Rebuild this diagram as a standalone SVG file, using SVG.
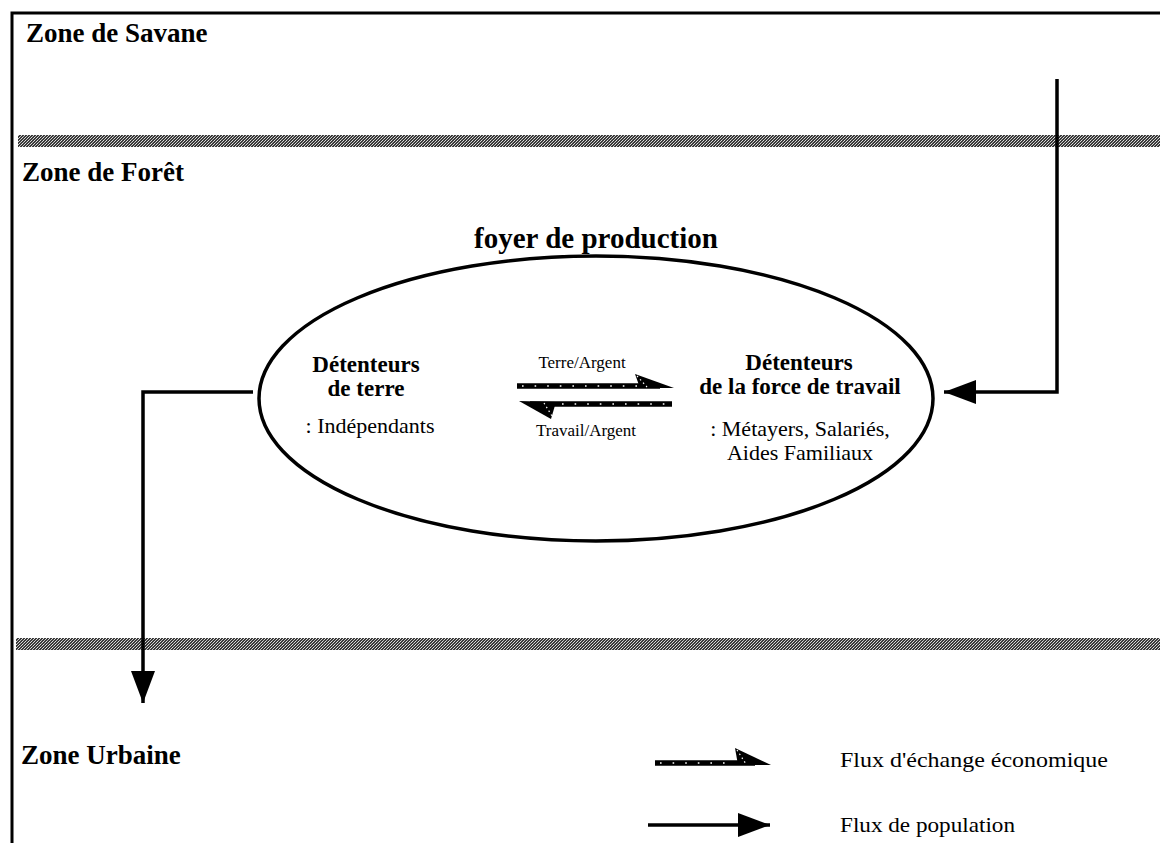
<svg xmlns="http://www.w3.org/2000/svg" width="1160" height="843" viewBox="0 0 1160 843">
<defs>
<pattern id="chk" width="3" height="3" patternUnits="userSpaceOnUse">
<rect width="3" height="3" fill="#3a3a3a"/>
<rect x="0" y="0" width="1" height="1" fill="#d8d8d8"/>
<rect x="2" y="1" width="1" height="1" fill="#bdbdbd"/>
<rect x="1" y="2" width="1" height="1" fill="#e0e0e0"/>
</pattern>
<marker id="pop" markerUnits="userSpaceOnUse" markerWidth="34" markerHeight="26" refX="32" refY="12" orient="auto">
<path d="M0,0 L32,12 L0,24 Z" fill="#000"/>
</marker>
</defs>
<style>
.zone{font-family:"Liberation Serif","Times New Roman",serif;font-weight:bold;font-size:27px;fill:#000}
.hd{font-family:"Liberation Serif","Times New Roman",serif;font-weight:bold;font-size:23px;fill:#000;text-anchor:middle}
.tx{font-family:"Liberation Serif","Times New Roman",serif;font-size:22px;fill:#000;text-anchor:middle}
.sm{font-family:"Liberation Serif","Times New Roman",serif;font-size:17px;fill:#000;text-anchor:middle}
.lg{font-family:"Liberation Serif","Times New Roman",serif;font-size:21px;fill:#000}
.pl{fill:none;stroke:#000;stroke-width:3.5}
.eco{stroke:#000;stroke-width:5.5;fill:none}
.ecod{stroke:#fff;stroke-width:1.6;stroke-dasharray:1.6 11;fill:none}
</style>
<rect width="1160" height="843" fill="#fff"/>
<g id="frame">
<path d="M12,843 L12,13 L1160,13" fill="none" stroke="#000" stroke-width="3"/>
</g>
<g id="bands">
<rect x="18" y="135" width="1142" height="12" fill="url(#chk)"/>
<rect x="16" y="638" width="1144" height="12" fill="url(#chk)"/>
</g>
<g id="zone-savane"><text class="zone" x="26" y="42">Zone de Savane</text></g>
<g id="zone-foret"><text class="zone" x="22" y="181">Zone de Forêt</text></g>
<g id="zone-urbaine"><text class="zone" x="21" y="764">Zone Urbaine</text></g>
<g id="foyer">
<text class="zone" x="596" y="248" text-anchor="middle" style="font-size:29px">foyer de production</text>
<ellipse cx="596" cy="398.5" rx="337" ry="142.5" fill="none" stroke="#000" stroke-width="3.5"/>
</g>
<g id="terre">
<text class="hd" x="366" y="372">Détenteurs</text>
<text class="hd" x="366" y="396">de terre</text>
<text class="tx" x="370" y="433">: Indépendants</text>
</g>
<g id="travail">
<text class="hd" x="799" y="370">Détenteurs</text>
<text class="hd" x="800" y="394">de la force de travail</text>
<text class="tx" x="800" y="436">: Métayers, Salariés,</text>
<text class="tx" x="800" y="460">Aides Familiaux</text>
</g>
<g id="connectors">
<g id="eco-terre">
<line class="eco" x1="517" y1="386" x2="660" y2="386"/>
<line class="ecod" x1="522" y1="386" x2="640" y2="386"/>
<path d="M635,374 L674,388 L640,388 Z" fill="#000"/>
<line x1="637" y1="376" x2="647" y2="387" stroke="#fff" stroke-width="1.2" stroke-dasharray="1.5 3"/>
</g>
<g id="eco-travail">
<line class="eco" x1="530" y1="404" x2="672" y2="404"/>
<line class="ecod" x1="562" y1="404" x2="672" y2="404"/>
<path d="M519,401 L556,402 L551,419 Z" fill="#000"/>
<line x1="544" y1="403" x2="552" y2="416" stroke="#fff" stroke-width="1.2" stroke-dasharray="1.5 3"/>
</g>
<text class="sm" x="582" y="368">Terre/Argent</text>
<text class="sm" x="586" y="436">Travail/Argent</text>
<path class="pl" d="M1057,79 L1057,392 L944,392" marker-end="url(#pop)"/>
<path class="pl" d="M253,392 L143,392 L143,703" marker-end="url(#pop)"/>
</g>
<g id="legend">
<line class="eco" x1="655" y1="763" x2="755" y2="763"/>
<line class="ecod" x1="660" y1="763" x2="735" y2="763"/>
<path d="M735,748 L771,765 L738,765 Z" fill="#000"/>
<line x1="737" y1="750" x2="746" y2="764" stroke="#fff" stroke-width="1.2" stroke-dasharray="1.5 3"/>
<text class="lg" x="840" y="767" textLength="268" lengthAdjust="spacingAndGlyphs">Flux d'échange économique</text>
<path class="pl" d="M648,825 L770,825" marker-end="url(#pop)"/>
<text class="lg" x="840" y="832" textLength="175" lengthAdjust="spacingAndGlyphs">Flux de population</text>
</g>
</svg>
